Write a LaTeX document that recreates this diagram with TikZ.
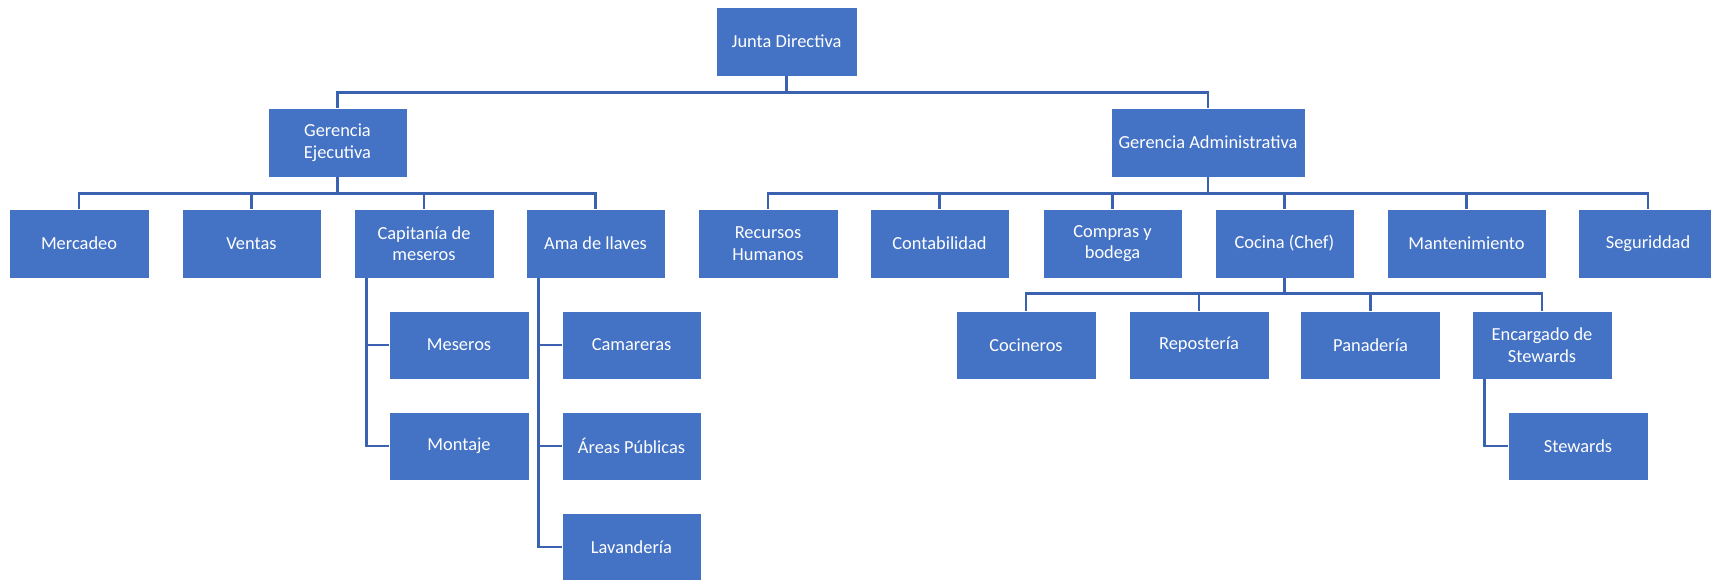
\documentclass[tikz,border=0pt]{standalone}
\usepackage{fontspec}
\setmainfont{Carlito}
\definecolor{boxblue}{RGB}{68,114,196}
\definecolor{linkblue}{RGB}{58,98,176}
\begin{document}
\begin{tikzpicture}[x=1pt,y=-1pt,
  unit/.style={draw=white, line width=0.8pt, fill=boxblue, text=white,
    minimum width=139pt, minimum height=69pt, inner sep=2pt, align=center,
    font=\fontsize{18.4}{21.5}\selectfont},
  link/.style={draw=linkblue, line width=2.6pt}]
\useasboundingbox (0,0) rectangle (1711,579);
\clip (0,0) rectangle (1711,579);

% top
\node[unit, minimum width=141pt] (junta) at (786.5,41.5) {Junta Directiva};

% managers
\node[unit] (gej) at (337.5,142.5) {Gerencia\\Ejecutiva};
\node[unit, minimum width=194pt] (gadm) at (1208,142.5) {Gerencia Administrativa};

% departments
\node[unit, minimum width=140pt] (merc) at (79,243.5) {Mercadeo};
\node[unit] (ventas) at (251.5,243.5) {Ventas};
\node[unit, minimum width=140pt] (capit) at (424,243.5) {Capitanía de\\meseros};
\node[unit] (ama) at (595.5,243.5) {Ama de llaves};
\node[unit, minimum width=140pt] (rrhh) at (768,243.5) {Recursos\\Humanos};
\node[unit] (conta) at (939.5,243.5) {Contabilidad};
\node[unit] (compras) at (1112.5,243.5) {Compras y\\bodega};
\node[unit] (cocina) at (1284.5,243.5) {Cocina (Chef)};
\node[unit, minimum width=159pt] (mant) at (1466.5,243.5) {Mantenimiento};
\node[unit] (segur) at (1648,243.5) {Seguriddad};

% side branches
\node[unit, minimum width=140pt, minimum height=68pt] (meseros) at (459,345) {Meseros};
\node[unit, minimum width=140pt, minimum height=68pt] (montaje) at (459,446) {Montaje};
\node[unit, minimum height=68pt] (camar) at (631.5,345) {Camareras};
\node[unit, minimum height=68pt] (areas) at (631.5,446) {Áreas Públicas};
\node[unit, minimum height=68pt] (lavan) at (631.5,547) {Lavandería};

% kitchen
\node[unit, minimum width=140pt, minimum height=68pt] (cocineros) at (1026,345) {Cocineros};
\node[unit, minimum width=140pt, minimum height=68pt] (repos) at (1199,345) {Repostería};
\node[unit, minimum width=140pt, minimum height=68pt] (panad) at (1370.5,345) {Panadería};
\node[unit, minimum width=140pt, minimum height=68pt] (encar) at (1542,345) {Encargado de\\Stewards};
\node[unit, minimum width=140pt, minimum height=68pt] (stew) at (1578,446) {Stewards};

% connectors
\foreach \c in {gej,gadm}
  \draw[link] (junta.south) -- ++(0,16) -| (\c.north);
\foreach \c in {merc,ventas,capit,ama}
  \draw[link] (gej.south) -- ++(0,16) -| (\c.north);
\foreach \c in {rrhh,conta,compras,cocina,mant,segur}
  \draw[link] (gadm.south) -- ++(0,16) -| (\c.north);
\foreach \c in {cocineros,repos,panad,encar}
  \draw[link] (cocina.south) -- ++(0,15) -| (\c.north);
\foreach \c in {meseros,montaje}
  \draw[link] ([xshift=13pt]capit.south west) |- (\c.west);
\foreach \c in {camar,areas,lavan}
  \draw[link] ([xshift=13pt]ama.south west) |- (\c.west);
\draw[link] ([xshift=13pt]encar.south west) |- (stew.west);
\end{tikzpicture}
\end{document}
